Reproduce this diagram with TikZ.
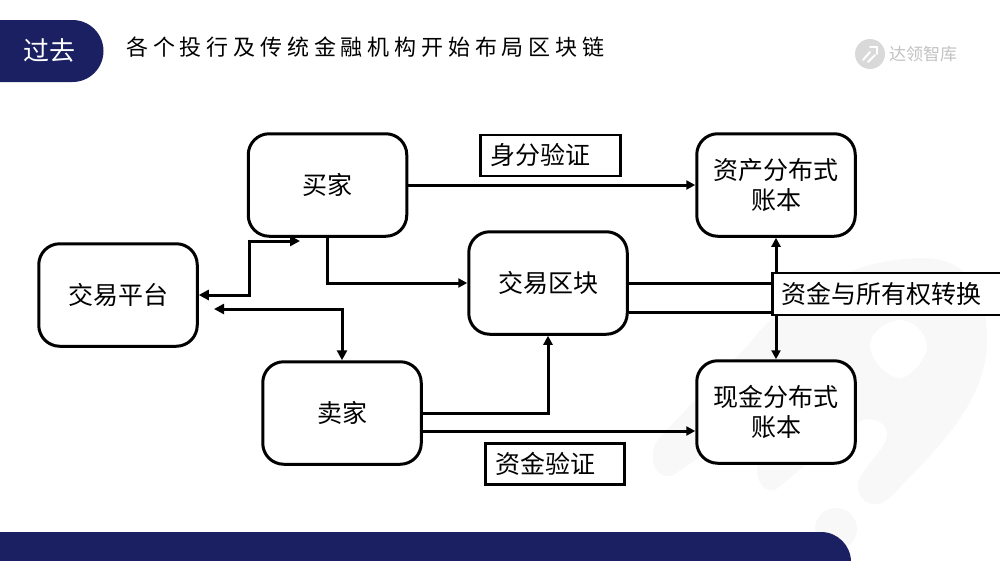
\documentclass[tikz,border=0pt]{standalone}
\usepackage{fontspec}
\setmainfont{Noto Sans CJK SC}
\newfontfamily\titlefont[LetterSpace=22]{Noto Sans CJK SC}
\usetikzlibrary{arrows.meta}
\definecolor{navy}{HTML}{1A2062}
\definecolor{wm}{HTML}{F8F8F9}
\tikzset{
  x=1pt,y=-1pt,
  flowbox/.style={draw=black,line width=3pt,fill=white,rounded corners=21pt,minimum width=158.5pt,minimum height=102.5pt,inner sep=0pt,align=center,font=\fontsize{25}{30}\selectfont},
  tagbox/.style={draw=black,line width=2.8pt,fill=white,inner sep=0pt,font=\fontsize{25}{30}\selectfont},
  link/.style={draw=black,line width=3pt},
  arrow/.style={link,-{Triangle[length=9pt,width=9pt]}},
  both/.style={link,{Triangle[length=10pt,width=10pt]}-{Triangle[length=10pt,width=10pt]}},
  rocket line/.style={draw=white,line width=2pt,line cap=round}
}
\begin{document}
\begin{tikzpicture}
\useasboundingbox (0,0) rectangle (1000,560);
\fill[white] (0,0) rectangle (1000,560);
% watermark
\fill[wm] (750,343) .. controls (790,290) and (860,258) .. (923,258)
  .. controls (970,258) and (987,295) .. (987,340)
  .. controls (987,400) and (940,447) .. (890,497)
  .. controls (878,510) and (858,505) .. (858,485)
  .. controls (858,470) and (888,450) .. (887,433)
  .. controls (885,418) and (865,415) .. (855,425)
  -- (775,490)
  .. controls (762,495) and (750,470) .. (762,458)
  -- (780,440) -- (740,430) -- (673,475)
  .. controls (655,482) and (645,455) .. (660,437)
  -- cycle;
\fill[white] (900,320) .. controls (912,320) and (927,332) .. (927,347)
  .. controls (927,358) and (910,378) .. (900,378)
  .. controls (888,378) and (870,360) .. (870,345)
  .. controls (870,332) and (888,320) .. (900,320) -- cycle;
\fill[wm] (836,529) circle[radius=21];
% bands
\fill[navy,rounded corners=31pt] (-40,20) -- (103.5,20) -- (103.5,82) -- (-40,82) -- cycle;
\fill[navy,rounded corners=30pt] (-40,600) -- (-40,532) -- (851,532) -- (851,600) -- cycle;
\node[text=white,font=\fontsize{26}{30}\selectfont] (tab) at (49.5,50) {过去};
\node[anchor=west,inner sep=0pt,font=\fontsize{22}{28}\titlefont] (title) at (126,47) {各个投行及传统金融机构开始布局区块链};
% logo
\fill[black!15] (870,54) circle[radius=15];
\draw[rocket line] (863,60) -- (870,52);
\draw[rocket line] (868,62) -- (875,55);
\draw[rocket line] (870,47) -- (877,47) -- (877,54);
\node[anchor=west,inner sep=0pt,text=black!24,font=\fontsize{17}{20}\selectfont] (logo) at (889,54) {达领智库};
% nodes
\node[flowbox] (buyer) at (327.5,185) {买家};
\node[flowbox] (platform) at (118,295) {交易平台};
\node[flowbox] (seller) at (342,413) {卖家};
\node[flowbox] (block) at (548,283) {交易区块};
\node[flowbox] (asset) at (776,185) {资产分布式\\账本};
\node[flowbox] (cash) at (776,412) {现金分布式\\账本};
\node[tagbox,minimum width=140pt,minimum height=41pt] (idtag) at (550.5,155.5) {身分验证\rule{21pt}{0pt}};
\node[tagbox,minimum width=139pt,minimum height=41pt] (fundtag) at (555,464) {资金验证\rule{20pt}{0pt}};
\coordinate (upIn) at (300,241);
\coordinate (upTurn) at (249,241);
\coordinate (midTurn) at (249,295);
\coordinate (lowEnd) at (214,309);
\coordinate (lowTurn) at (342,309);
% connectors
\draw[arrow] (buyer.east) -- (asset.west);
\draw[arrow] (buyer.south) |- (block.west);
\draw[both] (platform.east) -- (midTurn) -- (upTurn) -- (upIn);
\draw[both] (lowEnd) -- (lowTurn) -- (seller.north);
\draw[arrow] (seller.east) -| (block.south);
\draw[arrow] ([yshift=-18pt]seller.east) -- ([yshift=-19pt]cash.west);
\draw[link] (block.east) -- (771,283);
\draw[link] ([yshift=-29pt]block.east) -- (771,312);
\coordinate (swapTop) at (776,273);
\coordinate (swapBottom) at (776,315);
\draw[arrow] (swapTop) -- (asset.south);
\draw[arrow] (swapBottom) -- (cash.north);
\node[tagbox,minimum width=240pt,minimum height=42pt,anchor=west] (swap) at (771,294) {资金与所有权转换\rule{22pt}{0pt}};
\end{tikzpicture}
\end{document}
